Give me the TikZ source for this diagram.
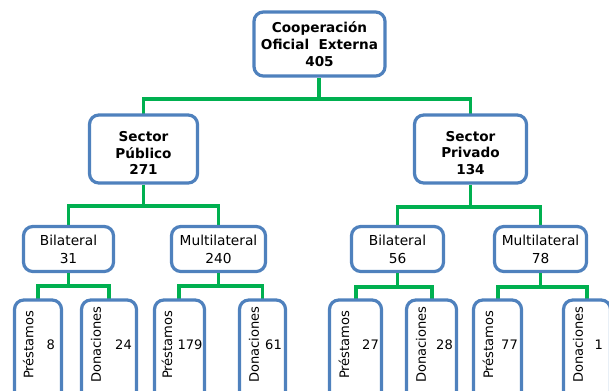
\documentclass[tikz,border=0pt]{standalone}
\usepackage{fontspec}
\setmainfont{DejaVu Sans}
\definecolor{boxblue}{RGB}{79,129,189}
\definecolor{linkgreen}{RGB}{0,176,80}
\newcommand{\secstrut}{\rule{0pt}{13.5pt}}

\tikzset{
  box/.style={draw=boxblue, line width=2.4pt, rounded corners=7pt, fill=white, align=center, inner sep=0pt},
  topbox/.style={box, minimum width=98.25pt, minimum height=48pt, font=\fontsize{10.2}{12.8}\selectfont\bfseries},
  secbox/.style={box, minimum width=81pt, minimum height=51pt, font=\fontsize{10.2}{12.4}\selectfont\bfseries},
  typebox/.style={box, minimum width=69pt, minimum height=33.75pt, font=\fontsize{10.3}{13.5}\selectfont},
  leafbox/.style={box, minimum height=75pt},
  leaftext/.style={rotate=90, inner sep=0pt, font=\fontsize{9.8}{12}\selectfont},
  leafnum/.style={anchor=east, inner sep=0pt, font=\fontsize{9.8}{12}\selectfont},
  link/.style={draw=linkgreen, line width=2.8pt}
}

\begin{document}
\begin{tikzpicture}[x=0.75pt,y=0.75pt,yscale=-1,xscale=1]
\useasboundingbox (0,0) rectangle (609,390);
\clip (0,0) rectangle (609,390);

% connectors
\coordinate (topbar) at (319,99);
\draw [link] (319,78) -- (topbar);
\draw [link] (topbar) -| (143.5,115);
\draw [link] (topbar) -| (470.5,115);

%Shape: top box
\node [topbox] (coop) at (319.5,44) {Cooperación\\Oficial\ \ Externa\\405};

%Shape: sector boxes
\node [secbox] (pub) at (143.5,149) {\secstrut Sector\\Público\\271};
\node [secbox, minimum width=84pt] (priv) at (470.5,149) {\secstrut Sector\\Privado\\134};

% connectors sector -> type
\draw [link] (pub.south) -- (143.5,206) -| (68.5,227);
\draw [link] (143.5,206) -| (218.5,227);
\draw [link] (priv.south) -- (470.5,207) -| (397.5,227);
\draw [link] (470.5,207) -| (540.5,227);

%Shape: type boxes
\node [typebox, minimum width=67.5pt] (bilpub) at (68.5,249) {Bilateral\\31};
\node [typebox, minimum width=70.5pt] (mulpub) at (218.5,249) {Multilateral\\240};
\node [typebox] (bilpriv) at (397.5,249) {Bilateral\\56};
\node [typebox] (mulpriv) at (540.5,249) {Multilateral\\78};

% connectors type -> leaf
\draw [link] (bilpub.south) -- (68.5,286) -| (38,302);
\draw [link] (68.5,286) -| (109,302);
\draw [link] (mulpub.south) -- (218.5,286) -| (179,302);
\draw [link] (218.5,286) -| (262.5,302);
\draw [link] (bilpriv.south) -- (397.5,287) -| (356,302);
\draw [link] (397.5,287) -| (432,302);
\draw [link] (mulpriv.south) -- (540.5,287) -| (498,302);
\draw [link] (540.5,287) -| (587,302);

%Shape: leaf boxes
\node [leafbox, minimum width=35.25pt] (prespub1) at (38,350) {};
\node [leafbox, minimum width=41.25pt] (donpub1) at (109,350) {};
\node [leafbox, minimum width=37.5pt] (prespub2) at (179.5,350) {};
\node [leafbox, minimum width=34.5pt] (donpub2) at (262.5,350) {};
\node [leafbox, minimum width=39pt] (prespriv1) at (355.5,350) {};
\node [leafbox, minimum width=37.5pt] (donpriv1) at (431.5,350) {};
\node [leafbox, minimum width=36pt] (prespriv2) at (497.5,350) {};
\node [leafbox, minimum width=35.25pt] (donpriv2) at (587,350) {};

% Text Node
\node [leaftext] at ([xshift=11.5pt,yshift=-4pt]prespub1.west) {Préstamos};
\node [leafnum] at ([xshift=-6pt,yshift=-3.75pt]prespub1.east) {8};
\node [leaftext] at ([xshift=12pt,yshift=-4pt]donpub1.west) {Donaciones};
\node [leafnum] at ([xshift=-4.5pt,yshift=-3.75pt]donpub1.east) {24};
\node [leaftext] at ([xshift=10.5pt,yshift=-4pt]prespub2.west) {Préstamos};
\node [leafnum] at ([xshift=-2.5pt,yshift=-3.75pt]prespub2.east) {179};
\node [leaftext] at ([xshift=12pt,yshift=-4pt]donpub2.west) {Donaciones};
\node [leafnum] at ([xshift=-3.75pt,yshift=-3.75pt]donpub2.east) {61};
\node [leaftext] at ([xshift=12pt,yshift=-4pt]prespriv1.west) {Préstamos};
\node [leafnum] at ([xshift=-3pt,yshift=-3.75pt]prespriv1.east) {27};
\node [leaftext] at ([xshift=12pt,yshift=-4pt]donpriv1.west) {Donaciones};
\node [leafnum] at ([xshift=-3.75pt,yshift=-3.75pt]donpriv1.east) {28};
\node [leaftext] at ([xshift=12pt,yshift=-4pt]prespriv2.west) {Préstamos};
\node [leafnum] at ([xshift=-3.75pt,yshift=-3.75pt]prespriv2.east) {77};
\node [leaftext] at ([xshift=12pt,yshift=-4pt]donpriv2.west) {Donaciones};
\node [leafnum] at ([xshift=-6.75pt,yshift=-3.75pt]donpriv2.east) {1};

\end{tikzpicture}
\end{document}
